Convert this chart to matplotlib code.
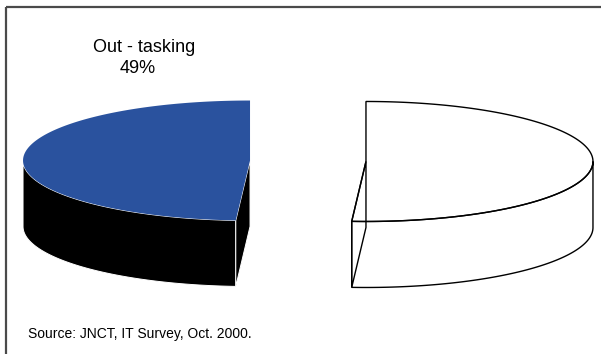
import numpy as np
import matplotlib
matplotlib.use('Agg')
import matplotlib.pyplot as plt
from matplotlib.patches import Polygon

# survey shares, percent
shares = [49, 51]
labels = ['Out - tasking', None]
colors = ['#2A529E', 'white']

W, H = 601, 354
fig = plt.figure(figsize=(W / 100, H / 100), dpi=100)
ax = fig.add_axes([0, 0, 1, 1])
ax.set_xlim(0, W)
ax.set_ylim(H, 0)
ax.axis('off')

# pie geometry in pixel units
cx, cy = 308, 161
a, b = 227, 60
depth = 66
explode = 58


def ell(x0, y0, th, dz=0.0):
    t = np.radians(th)
    return np.column_stack([x0 + a * np.cos(t), y0 - b * np.sin(t) + dz])


def slice_parts(x0, y0, t1, t2):
    parts = {}
    arc = np.linspace(t1, t2, 200)
    top = np.vstack([[x0, y0], ell(x0, y0, arc)])
    parts['top'] = top
    # front half of the outer wall (180..360 deg)
    segs = []
    for k in (0, 360):
        s, e = max(t1, 180 + k), min(t2, 360 + k)
        if e > s:
            segs.append((s, e))
    walls = []
    for s, e in segs:
        th = np.linspace(s, e, 200)
        walls.append(np.vstack([ell(x0, y0, th), ell(x0, y0, th[::-1], depth)]))
    parts['walls'] = walls
    faces = []
    for th in (t1, t2):
        p = ell(x0, y0, [th])[0]
        faces.append(np.array([[x0, y0], p, p + [0, depth], [x0, y0 + depth]]))
    parts['faces'] = faces
    return parts


total = sum(shares)
start = 90.0
for i, v in enumerate(shares):
    t1 = start
    t2 = start + 360.0 * v / total
    start = t2
    mid = np.radians((t1 + t2) / 2)
    x0 = cx + explode * np.cos(mid)
    y0 = cy - explode * (b / a) * np.sin(mid)
    p = slice_parts(x0, y0, t1, t2)
    if colors[i] != 'white':
        for w in p['walls']:
            ax.add_patch(Polygon(w, closed=True, fc='black', ec='white', lw=0.7))
        ax.add_patch(Polygon(p['faces'][1], closed=True, fc='black',
                             ec='white', lw=0.7))
        ax.add_patch(Polygon(p['top'], closed=True, fc=colors[i], ec='none'))
    else:
        # outline slice: fill everything first, then draw all edges
        shapes = [p['faces'][0]] + p['walls'] + [p['top']]
        for s in shapes:
            ax.add_patch(Polygon(s, closed=True, fc='white', ec='none'))
        for s in shapes:
            ax.add_patch(Polygon(s, closed=True, fill=False, ec='black',
                                 lw=1.0))

# label for the out-tasking slice
ax.text(144, 52, labels[0], ha='center', va='baseline', fontsize=13,
        family='Liberation Sans', color='black')
ax.text(138, 73, '%d%%' % shares[0], ha='center', va='baseline', fontsize=13,
        family='Liberation Sans', color='black')

ax.text(28, 338, 'Source: JNCT, IT Survey, Oct. 2000.', ha='left',
        va='baseline', fontsize=10, family='Liberation Sans', color='black')

# frame on top and left edges
ax.plot([5.5, W], [6.5, 6.5], color='#4a4a4a', lw=1.6, solid_capstyle='butt')
ax.plot([5.5, 5.5], [6.5, H], color='#4a4a4a', lw=1.6, solid_capstyle='butt')

fig.savefig('out.png', dpi=100)
